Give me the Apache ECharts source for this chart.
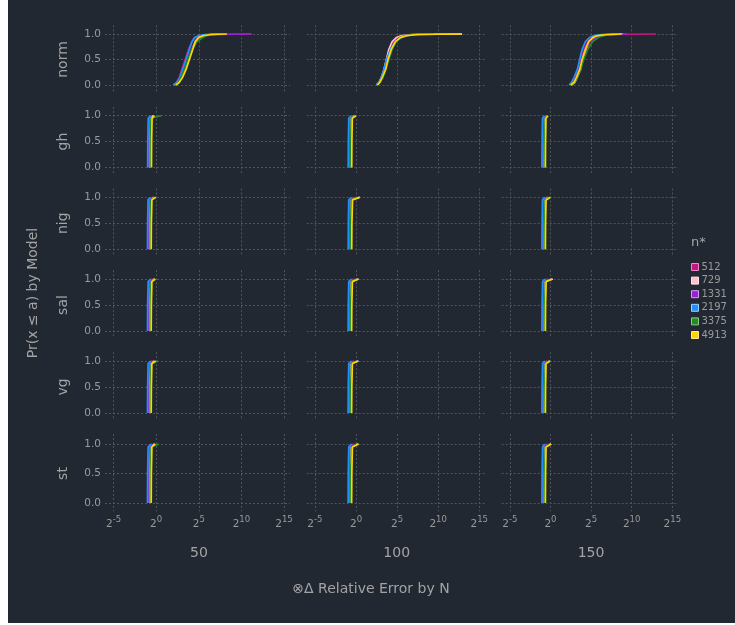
<!DOCTYPE html>
<html><head><meta charset="utf-8">
<script src="https://cdn.jsdelivr.net/npm/echarts@6/dist/echarts.min.js"></script>
<style>
html,body{margin:0;padding:0;background:#fff;}
#bg{position:absolute;left:8px;top:0;width:727px;height:623px;background:#222831;}
#chart{position:absolute;left:0;top:0;width:735px;height:625px;}
</style></head><body><div id="bg"></div><div id="chart"></div>
<script>
const models = ['norm','gh','nig','sal','vg','st'];
const columns = ['50','100','150'];
const seriesNames = ['512','729','1331','2197','3375','4913'];
const seriesColors = ['#c71585','#ffc0cb','#9a1fd6','#1e90ff','#228b22','#ffd700'];
const legendBorders = ['#e58fc4','#ffe4ea','#cfa0ee','#9fd0ff','#8fc98f','#ffeb90'];
const xTickExps = [-5, 0, 5, 10, 15];
const yTicks = [0, 0.5, 1];

// cumulative probability levels at which the log2(error) quantiles are read
const normLevels = [0, 0.05, 0.15, 0.3, 0.5, 0.7, 0.85, 0.93, 0.97, 0.99, 1];
const otherLevels = [0, 0.5, 0.95, 1];

// log2 relative error quantiles, one row per n* (512, 729, 1331, 2197, 3375, 4913)
const norm_50 = [
  [2.1, 2.4, 2.7, 3.0, 3.4, 3.8, 4.2, 4.7, 5.3, 6.5, 11.2],
  [2.2, 2.6, 3.0, 3.4, 3.8, 4.2, 4.6, 5.0, 5.5, 6.3, 7.5],
  [2.2, 2.6, 3.0, 3.3, 3.7, 4.2, 4.8, 5.3, 5.9, 7.0, 11.2],
  [2.0, 2.4, 2.8, 3.1, 3.5, 3.9, 4.2, 4.5, 5.0, 5.8, 7.0],
  [2.2, 2.6, 2.9, 3.3, 3.7, 4.2, 4.8, 5.5, 6.0, 6.8, 8.0],
  [2.3, 2.7, 3.1, 3.5, 3.9, 4.3, 4.6, 5.0, 5.6, 6.5, 8.3]
];
const norm_100 = [
  [2.5, 2.8, 3.1, 3.4, 3.7, 4.1, 4.6, 5.1, 5.8, 7.0, 10.5],
  [2.5, 2.8, 3.1, 3.4, 3.7, 4.0, 4.4, 4.9, 5.6, 6.8, 12.9],
  [2.6, 2.9, 3.2, 3.5, 3.8, 4.2, 4.7, 5.3, 6.0, 7.2, 9.5],
  [2.5, 2.8, 3.1, 3.4, 3.7, 4.2, 4.8, 5.5, 6.3, 7.3, 9.0],
  [2.6, 2.9, 3.3, 3.6, 4.0, 4.4, 4.9, 5.4, 6.0, 7.0, 9.0],
  [2.6, 2.9, 3.2, 3.6, 3.9, 4.3, 4.8, 5.4, 6.2, 7.5, 12.9]
];
const norm_150 = [
  [2.4, 2.8, 3.1, 3.4, 3.7, 4.1, 4.6, 5.2, 6.0, 7.5, 13.0],
  [2.6, 3.0, 3.3, 3.7, 4.0, 4.4, 4.8, 5.4, 6.2, 7.6, 9.0],
  [2.5, 2.9, 3.2, 3.6, 3.9, 4.3, 4.9, 5.6, 6.5, 7.6, 9.5],
  [2.3, 2.6, 2.9, 3.3, 3.6, 3.9, 4.3, 4.8, 5.4, 6.3, 8.0],
  [2.5, 2.9, 3.3, 3.7, 4.1, 4.6, 5.2, 5.9, 6.6, 7.6, 8.5],
  [2.5, 2.9, 3.2, 3.6, 3.9, 4.3, 4.7, 5.2, 5.8, 7.0, 8.8]
];
const gh_50 = [
  [-0.85, -0.83, -0.78, -0.45], [-0.75, -0.73, -0.68, -0.35], [-0.92, -0.9, -0.85, -0.6],
  [-1.0, -0.98, -0.93, -0.7], [-0.7, -0.68, -0.6, 0.6], [-0.55, -0.53, -0.48, -0.2]
];
const gh_100 = [
  [-0.8, -0.78, -0.72, -0.4], [-0.72, -0.7, -0.64, -0.2], [-0.86, -0.84, -0.8, -0.5],
  [-0.95, -0.93, -0.88, -0.6], [-0.66, -0.64, -0.58, -0.1], [-0.52, -0.5, -0.45, 0.0]
];
const gh_150 = [
  [-0.88, -0.86, -0.8, -0.55], [-0.8, -0.78, -0.72, -0.45], [-0.95, -0.93, -0.88, -0.65],
  [-1.05, -1.03, -0.98, -0.75], [-0.72, -0.7, -0.64, -0.4], [-0.62, -0.6, -0.55, -0.3]
];
const nig_50 = [
  [-0.86, -0.84, -0.78, -0.4], [-0.76, -0.74, -0.68, -0.25], [-0.93, -0.91, -0.86, -0.55],
  [-1.02, -1.0, -0.95, -0.7], [-0.7, -0.68, -0.62, -0.15], [-0.58, -0.56, -0.5, -0.05]
];
const nig_100 = [
  [-0.8, -0.78, -0.72, -0.2], [-0.72, -0.7, -0.63, 0.4], [-0.86, -0.84, -0.78, -0.4],
  [-0.95, -0.93, -0.88, -0.55], [-0.66, -0.64, -0.56, 0.1], [-0.52, -0.5, -0.42, 0.5]
];
const nig_150 = [
  [-0.88, -0.86, -0.8, -0.45], [-0.8, -0.78, -0.72, -0.3], [-0.95, -0.93, -0.88, -0.6],
  [-1.05, -1.03, -0.98, -0.7], [-0.72, -0.7, -0.64, -0.2], [-0.62, -0.6, -0.54, 0.0]
];
const sal_50 = [
  [-0.86, -0.84, -0.78, -0.35], [-0.76, -0.74, -0.67, -0.2], [-0.93, -0.91, -0.85, -0.5],
  [-1.02, -1.0, -0.94, -0.65], [-0.7, -0.68, -0.6, -0.1], [-0.58, -0.56, -0.5, -0.1]
];
const sal_100 = [
  [-0.82, -0.8, -0.74, -0.25], [-0.72, -0.7, -0.62, 0.3], [-0.88, -0.86, -0.8, -0.4],
  [-0.96, -0.94, -0.88, -0.55], [-0.66, -0.64, -0.56, 0.0], [-0.53, -0.51, -0.44, 0.3]
];
const sal_150 = [
  [-0.88, -0.86, -0.8, -0.3], [-0.8, -0.78, -0.7, 0.3], [-0.95, -0.93, -0.87, -0.5],
  [-1.05, -1.03, -0.97, -0.65], [-0.72, -0.7, -0.62, -0.1], [-0.62, -0.6, -0.53, 0.2]
];
const vg_50 = [
  [-0.86, -0.84, -0.78, -0.35], [-0.76, -0.74, -0.67, -0.2], [-0.93, -0.91, -0.85, -0.5],
  [-1.02, -1.0, -0.94, -0.65], [-0.7, -0.68, -0.58, 0.25], [-0.58, -0.56, -0.5, -0.05]
];
const vg_100 = [
  [-0.82, -0.8, -0.74, -0.2], [-0.72, -0.7, -0.62, 0.3], [-0.88, -0.86, -0.8, -0.4],
  [-0.96, -0.94, -0.88, -0.55], [-0.66, -0.64, -0.55, 0.1], [-0.53, -0.51, -0.44, 0.25]
];
const vg_150 = [
  [-0.88, -0.86, -0.8, -0.4], [-0.8, -0.78, -0.71, -0.1], [-0.95, -0.93, -0.87, -0.55],
  [-1.05, -1.03, -0.97, -0.7], [-0.72, -0.7, -0.63, -0.2], [-0.62, -0.6, -0.54, -0.05]
];
const st_50 = [
  [-0.88, -0.86, -0.8, -0.1], [-0.76, -0.74, -0.66, -0.2], [-0.93, -0.91, -0.85, -0.45],
  [-1.02, -1.0, -0.94, -0.6], [-0.7, -0.68, -0.58, 0.35], [-0.58, -0.56, -0.5, -0.1]
];
const st_100 = [
  [-0.82, -0.8, -0.74, -0.2], [-0.72, -0.7, -0.62, 0.3], [-0.88, -0.86, -0.8, -0.4],
  [-0.96, -0.94, -0.88, -0.55], [-0.66, -0.64, -0.55, 0.0], [-0.53, -0.51, -0.44, 0.3]
];
const st_150 = [
  [-0.88, -0.86, -0.8, -0.35], [-0.8, -0.78, -0.71, 0.05], [-0.95, -0.93, -0.87, -0.55],
  [-1.05, -1.03, -0.97, -0.7], [-0.72, -0.7, -0.63, -0.2], [-0.62, -0.6, -0.54, 0.1]
];

const panelData = {
  norm: [norm_50, norm_100, norm_150],
  gh: [gh_50, gh_100, gh_150],
  nig: [nig_50, nig_100, nig_150],
  sal: [sal_50, sal_100, sal_150],
  vg: [vg_50, vg_100, vg_150],
  st: [st_50, st_100, st_150]
};

// ---- layout ----
const colGeom = [{left: 105, width: 185}, {left: 306.7, width: 178.3}, {left: 501.7, width: 176.3}];
const rowGeom = [[34, 85], [115.7, 167.5], [197.3, 249.2], [279, 331], [361, 413], [444, 503]];
const X_MIN = -6, X_MAX = 15.7, Y_MIN = -0.14, Y_MAX = 1.17;
const TICK_COLOR = '#9a9a9a', TITLE_COLOR = '#a3a3a3', GRID_COLOR = '#50555d';
const FONT = 'DejaVu Sans';

const grids = [], xAxes = [], yAxes = [], series = [];
models.forEach((m, r) => {
  const [y1, y0] = rowGeom[r];
  const s = y0 - y1;
  columns.forEach((c, ci) => {
    const idx = r * 3 + ci;
    grids.push({
      left: colGeom[ci].left, width: colGeom[ci].width,
      top: y1 - (Y_MAX - 1) * s, height: (Y_MAX - Y_MIN) * s,
      containLabel: false, outerBoundsMode: 'none'
    });
    xAxes.push({
      type: 'value', gridIndex: idx, min: X_MIN, max: X_MAX,
      axisLine: {show: false},
      axisTick: {show: false, customValues: xTickExps},
      splitLine: {show: true, lineStyle: {color: GRID_COLOR, type: [2, 2], width: 1}},
      axisLabel: {
        show: r === models.length - 1, customValues: xTickExps, margin: 4,
        formatter: v => '{b|2}{s|' + v + '}',
        rich: {
          b: {fontSize: 10.5, color: TICK_COLOR, fontFamily: FONT},
          s: {fontSize: 8.5, color: TICK_COLOR, fontFamily: FONT, padding: [0, 0, 10, 0]}
        }
      }
    });
    yAxes.push({
      type: 'value', gridIndex: idx, min: Y_MIN, max: Y_MAX,
      axisLine: {show: false},
      axisTick: {show: false, customValues: yTicks},
      splitLine: {show: true, lineStyle: {color: GRID_COLOR, type: [2, 2], width: 1}},
      axisLabel: {
        show: ci === 0, customValues: yTicks, margin: 4,
        fontSize: 10.5, color: TICK_COLOR, fontFamily: FONT,
        formatter: v => v.toFixed(1)
      }
    });
    const levels = r === 0 ? normLevels : otherLevels;
    const arr = panelData[m][ci];
    seriesNames.forEach((name, si) => {
      series.push({
        type: 'line', name: name, xAxisIndex: idx, yAxisIndex: idx,
        data: arr[si].map((x, i) => [x, levels[i]]),
        showSymbol: false, symbol: 'none', silent: true,
        lineStyle: {width: 1.7, color: seriesColors[si]},
        itemStyle: {color: seriesColors[si]},
        z: 2 + si
      });
    });
  });
});

const graphics = [];
models.forEach((m, r) => {
  const [y1, y0] = rowGeom[r];
  graphics.push({type: 'text', x: 63, y: (y1 + y0) / 2, rotation: Math.PI / 2,
    style: {text: m, fill: TITLE_COLOR, font: '14px "DejaVu Sans"', align: 'center', verticalAlign: 'middle'}});
});
const colLabelX = [199, 396.7, 591];
columns.forEach((c, ci) => {
  graphics.push({type: 'text', x: colLabelX[ci], y: 553,
    style: {text: c, fill: TITLE_COLOR, font: '14px "DejaVu Sans"', align: 'center', verticalAlign: 'middle'}});
});
graphics.push({type: 'text', x: 371, y: 589,
  style: {text: '⊗Δ Relative Error by N', fill: TITLE_COLOR, font: '14px "DejaVu Sans"', align: 'center', verticalAlign: 'middle'}});
graphics.push({type: 'text', x: 33, y: 293, rotation: Math.PI / 2,
  style: {text: 'Pr(x ≤ a) by Model', fill: TITLE_COLOR, font: '14px "DejaVu Sans"', align: 'center', verticalAlign: 'middle'}});
graphics.push({type: 'text', x: 691, y: 243,
  style: {text: 'n*', fill: TITLE_COLOR, font: '13px "DejaVu Sans"', align: 'left', verticalAlign: 'middle'}});

const chart = echarts.init(document.getElementById('chart'), null, {renderer: 'canvas'});
chart.setOption({
  backgroundColor: 'transparent',
  animation: false,
  grid: grids, xAxis: xAxes, yAxis: yAxes, series: series,
  legend: {
    orient: 'vertical', left: 686, top: 257, icon: 'rect',
    itemWidth: 7, itemHeight: 7, itemGap: 3.6, selectedMode: false,
    textStyle: {color: TICK_COLOR, fontSize: 10, fontFamily: FONT, padding: [0, 0, 0, -2]},
    data: seriesNames.map((n, i) => ({name: n, itemStyle: {color: seriesColors[i], borderColor: legendBorders[i], borderWidth: 1}}))
  },
  graphic: graphics
});
</script></body></html>
